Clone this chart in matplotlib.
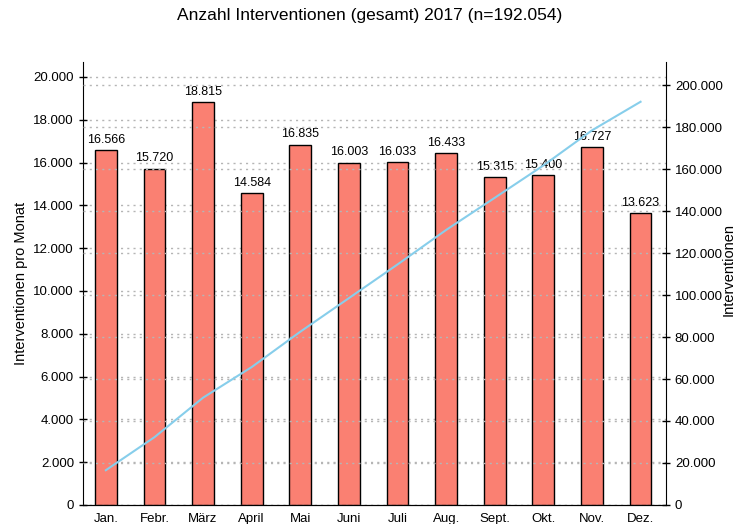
import matplotlib
matplotlib.use("Agg")
import matplotlib.pyplot as plt
from matplotlib.ticker import FuncFormatter

plt.rcParams['font.family'] = ['Liberation Sans', 'DejaVu Sans']

months = ["Jan.", "Febr.", "März", "April", "Mai", "Juni", "Juli", "Aug.",
          "Sept.", "Okt.", "Nov.", "Dez."]
monthly = [16566, 15720, 18815, 14584, 16835, 16003, 16033, 16433,
           15315, 15400, 16727, 13623]
cumulative = [16566, 32286, 51101, 65685, 82520, 98523, 114556, 130989,
              146304, 161704, 178431, 192054]


def de_fmt(v, pos=None):
    return f"{int(round(v)):,}".replace(",", ".")


fig = plt.figure(figsize=(7.39, 5.24), dpi=100)
ax = fig.add_axes([0.1123, 0.0363, 0.7887, 0.8454])
ax2 = ax.twinx()

x = list(range(len(months)))
ax.bar(x, monthly, width=0.45, color="#FA8072", edgecolor="black",
       linewidth=1.0, zorder=3)
for xi, v in zip(x, monthly):
    ax.text(xi, v + 200, de_fmt(v), ha="center", va="bottom", fontsize=9,
            zorder=4)

ax2.plot(x, cumulative, color="#87CEEB", linewidth=1.5, zorder=5)

ax.set_ylim(0, 20700)
ax2.set_ylim(0, 211000)
ax.set_xlim(-0.47, 11.52)
ax.set_yticks(range(0, 20001, 2000))
ax2.set_yticks(range(0, 200001, 20000))
ax.yaxis.set_major_formatter(FuncFormatter(de_fmt))
ax2.yaxis.set_major_formatter(FuncFormatter(de_fmt))
ax.set_xticks(x)
ax.set_xticklabels(months)

ax.grid(axis="y", linestyle=(0, (1.5, 3)), color="#b5b5b5", linewidth=1.0, zorder=0)
ax2.grid(axis="y", linestyle=(0, (1.5, 3)), color="#b5b5b5", linewidth=1.0, zorder=0)
ax.set_axisbelow(True)
ax.patch.set_visible(False)
ax2.patch.set_visible(False)

for a in (ax, ax2):
    a.spines["top"].set_visible(False)
    a.tick_params(labelsize=9.5, length=6, direction="inout", width=1)
ax.spines["right"].set_visible(False)
ax2.spines["left"].set_visible(False)
ax.tick_params(axis="x", length=0, pad=6)

ax.set_ylabel("Interventionen pro Monat", fontsize=10.5)
fig.text(0.996, 0.485, "Interventionen", fontsize=10.5, rotation=90,
         ha="right", va="center")
fig.suptitle("Anzahl Interventionen (gesamt) 2017 (n=192.054)", fontsize=12.5,
             y=0.985)

fig.savefig("out.png", dpi=100)
